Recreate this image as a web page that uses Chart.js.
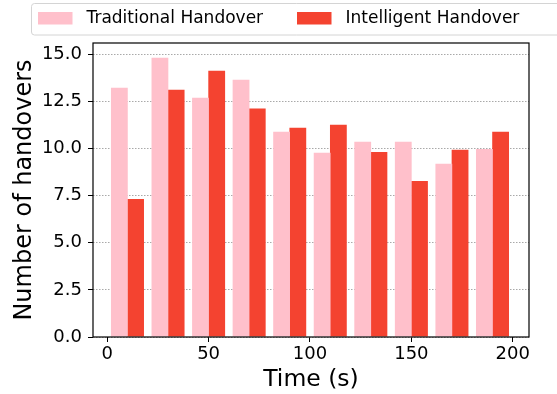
<!DOCTYPE html>
<html>
<head>
<script src="https://cdn.jsdelivr.net/npm/chart.js@4/dist/chart.umd.min.js"></script>
<style>
  html, body { margin: 0; padding: 0; background: #fff; }
  #wrap { width: 557px; height: 394px; }
</style>
</head>
<body>
<div id="wrap"><canvas id="myChart" width="557" height="394"></canvas></div>
<script>
// time instants (s) of each pair of bars
const times = [10, 30, 50, 70, 90, 110, 130, 150, 170, 190];
// handovers per interval
const traditional = [13.23, 14.82, 12.70, 13.65, 10.89, 9.77, 10.36, 10.36, 9.19, 9.98];
const intelligent = [7.32, 13.12, 14.13, 12.12, 11.10, 11.26, 9.82, 8.28, 9.93, 10.89];
const xTicks = [0, 50, 100, 150, 200];
const yTicks = [0, 2.5, 5, 7.5, 10, 12.5, 15];
const labels = ['Traditional Handover', 'Intelligent Handover'];

const FONT = "'DejaVu Sans', sans-serif";
const halfBar = 4; // bars sit either side of each time instant

const toPoints = (vals, shift) => vals.map((v, i) => ({ x: times[i] + shift, y: v }));

const legendBox = {
    id: 'legendBox',
    afterDraw(chart) {
        const ctx = chart.ctx;
        ctx.save();
        ctx.fillStyle = 'rgba(255,255,255,0.8)';
        ctx.strokeStyle = '#d4d4d4';
        ctx.lineWidth = 1;
        ctx.beginPath();
        ctx.roundRect(31.5, 3.5, 540, 31.5, 3);
        ctx.fill();
        ctx.stroke();
        ctx.font = '17px ' + FONT;
        ctx.textBaseline = 'middle';
        ctx.textAlign = 'left';
        const slots = [38, 297];
        chart.data.datasets.forEach((ds, i) => {
            ctx.fillStyle = ds.backgroundColor;
            ctx.fillRect(slots[i], 12, 34.5, 12.5);
            ctx.fillStyle = '#000';
            ctx.fillText(ds.label, slots[i] + 48.5, 19);
        });
        ctx.restore();
    }
};

const frame = {
    id: 'frame',
    afterDatasetsDraw(chart) {
        const a = chart.chartArea;
        const ctx = chart.ctx;
        ctx.save();
        ctx.strokeStyle = '#000';
        ctx.lineWidth = 1.2;
        ctx.strokeRect(a.left, a.top, a.right - a.left, a.bottom - a.top);
        ctx.restore();
    }
};

new Chart(document.getElementById('myChart'), {
    type: 'bar',
    data: {
        datasets: [{
            label: labels[0],
            data: toPoints(traditional, -halfBar),
            backgroundColor: '#FFC0CB',
            grouped: false,
            inflateAmount: 0,
            barThickness: 16.8
        }, {
            label: labels[1],
            data: toPoints(intelligent, halfBar),
            backgroundColor: '#F44330',
            grouped: false,
            inflateAmount: 0,
            barThickness: 16.8
        }]
    },
    options: {
        responsive: false,
        animation: false,
        layout: { padding: { top: 43, right: 28, left: 0, bottom: 0 } },
        plugins: { legend: { display: false }, tooltip: { enabled: false } },
        scales: {
            x: {
                type: 'linear',
                offset: false,
                min: -7,
                max: 208,
                afterBuildTicks: s => { s.ticks = xTicks.map(v => ({ value: v })); },
                afterFit: s => { s.height = 57; },
                grid: { offset: false, drawOnChartArea: false, tickLength: 5, tickColor: '#000', color: '#000' },
                border: { display: false },
                ticks: { color: '#000', font: { family: FONT, size: 18 }, padding: 2, maxRotation: 0 },
                title: { display: true, text: 'Time (s)', color: '#000', font: { family: FONT, size: 23.5 }, padding: 0 }
            },
            y: {
                min: 0,
                max: 15.6,
                afterBuildTicks: s => { s.ticks = yTicks.map(v => ({ value: v })); },
                afterFit: s => { s.width = 93; },
                grid: {
                    color: 'rgba(140,140,140,0.75)',
                    lineWidth: 1,
                    tickLength: 5,
                    tickColor: '#000',
                    tickBorderDash: [1, 0]
                },
                border: { display: false, dash: [1.5, 1.5] },
                ticks: {
                    color: '#000',
                    font: { family: FONT, size: 18 },
                    padding: 6,
                    callback: v => v.toFixed(1)
                },
                title: { display: true, text: 'Number of handovers', color: '#000', font: { family: FONT, size: 24 }, padding: { top: 10 } }
            }
        }
    },
    plugins: [legendBox, frame]
});
</script>
</body>
</html>
